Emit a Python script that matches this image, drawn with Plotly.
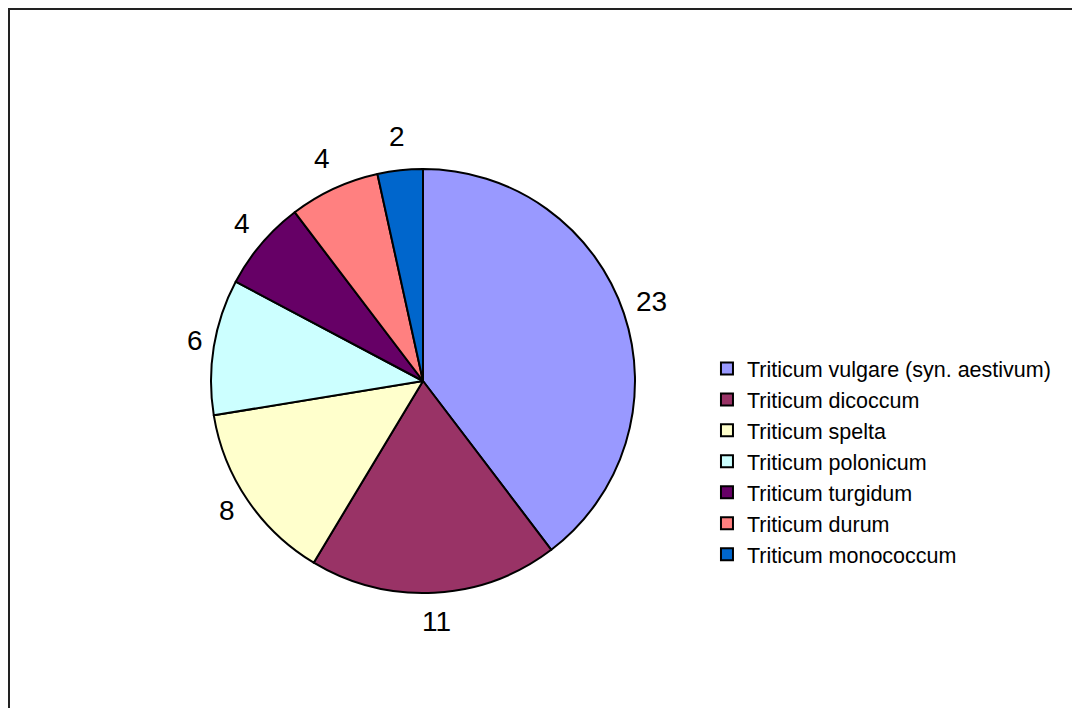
import math

import plotly.graph_objects as go

species = [
    "Triticum vulgare (syn. aestivum)",
    "Triticum dicoccum",
    "Triticum spelta",
    "Triticum polonicum",
    "Triticum turgidum",
    "Triticum durum",
    "Triticum monococcum",
]
counts = [23, 11, 8, 6, 4, 4, 2]
colors = ["#9999FF", "#993366", "#FFFFCC", "#CCFFFF", "#660066", "#FF8080", "#0066CC"]

FONT = "Liberation Sans, Arial, sans-serif"
W, H = 1080, 708
CX, CY = 415, 373   # pie centre in figure pixels
R_PIE = 212

fig = go.Figure(
    go.Pie(
        labels=species,
        values=counts,
        sort=False,
        direction="clockwise",
        rotation=0,
        marker=dict(colors=colors, line=dict(color="black", width=2)),
        textinfo="none",
        hoverinfo="skip",
        domain=dict(
            x=[(CX - R_PIE) / W, (CX + R_PIE) / W],
            y=[1 - (CY + R_PIE) / H, 1 - (CY - R_PIE) / H],
        ),
    )
)

# value labels outside each slice, on the slice's mid angle (Excel style)
total = sum(counts)
annotations = []
cum = 0
for v in counts:
    theta = 2 * math.pi * (cum + v / 2) / total
    cum += v
    txt = str(v)
    r = R_PIE + 17 + 14 * abs(math.cos(theta)) + 8 * (len(txt) - 1) * abs(math.sin(theta))
    annotations.append(dict(
        x=(CX + r * math.sin(theta)) / W,
        y=1 - (CY - 3 - r * math.cos(theta)) / H,   # -3: text box vs glyph centre
        xref="paper", yref="paper",
        text=txt, showarrow=False,
        xanchor="center", yanchor="middle",
        font=dict(size=28, color="black", family=FONT),
    ))

fig.update_layout(
    width=W,
    height=H,
    margin=dict(l=0, r=0, t=0, b=0),
    paper_bgcolor="white",
    plot_bgcolor="white",
    font=dict(family=FONT, color="black"),
    annotations=annotations,
    legend=dict(
        x=0.6472,
        y=0.3595,
        xanchor="left",
        yanchor="middle",
        font=dict(size=21.5, family=FONT, color="black"),
        itemwidth=30,
        bgcolor="rgba(0,0,0,0)",
    ),
    shapes=[
        dict(
            type="rect", xref="paper", yref="paper",
            x0=1 / W, x1=1.01, y0=-0.01, y1=1 - 1 / H,
            line=dict(color="#222222", width=2),
        )
    ],
)

fig.write_html("out.html")
